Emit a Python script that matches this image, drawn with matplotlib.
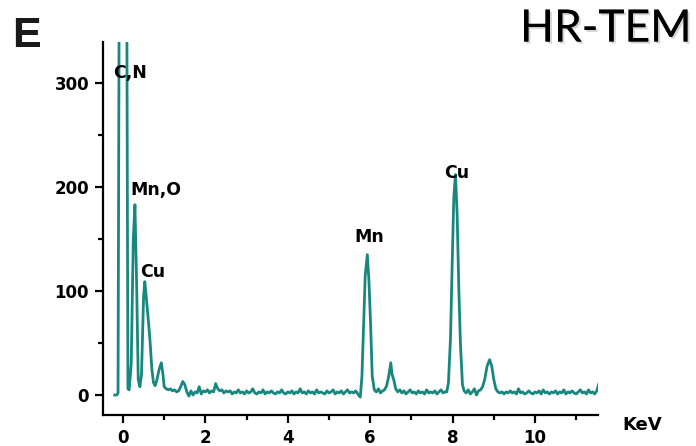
import numpy as np
import matplotlib
matplotlib.use("Agg")
import matplotlib.pyplot as plt
import matplotlib.patheffects as pe
from matplotlib.ticker import MultipleLocator

# EDS spectrum (keV, counts)
energy_low = [-0.20, -0.15, -0.12, -0.09, -0.06, 0.06, 0.09, 0.12, 0.15, 0.20,
              0.25, 0.29, 0.33, 0.37, 0.41, 0.45, 0.50, 0.53, 0.57, 0.62,
              0.66, 0.70, 0.74, 0.78, 0.82, 0.88, 0.93, 0.97, 1.00, 1.05,
              1.10, 1.15, 1.20, 1.25, 1.30, 1.35, 1.40, 1.45, 1.50, 1.55,
              1.60, 1.65, 1.70, 1.75, 1.80, 1.85, 1.90, 1.95, 2.00, 2.05,
              2.10, 2.15, 2.20, 2.25, 2.30, 2.35, 2.40, 2.45, 2.50, 2.55]
counts_low = [0, 0, 2, 420, 700, 700, 420, 6, 5, 30,
              150, 183, 110, 15, 8, 20, 95, 109, 92, 70,
              50, 25, 12, 9, 14, 25, 31, 20, 8, 6,
              5, 6, 4, 5, 3, 4, 8, 13, 10, 3,
              -1, 4, 0, 3, 2, 8, 1, 4, 3, 5,
              2, 4, 3, 11, 6, 4, 5, 2, 4, 3]

energy_base1 = [2.60, 2.65, 2.70, 2.75, 2.80, 2.85, 2.90, 2.95, 3.00, 3.05,
                3.10, 3.15, 3.20, 3.25, 3.30, 3.35, 3.40, 3.45, 3.50, 3.55,
                3.60, 3.65, 3.70, 3.75, 3.80, 3.85, 3.90, 3.95, 4.00, 4.05,
                4.10, 4.15, 4.20, 4.25, 4.30, 4.35, 4.40, 4.45, 4.50, 4.55,
                4.60, 4.65, 4.70, 4.75, 4.80, 4.85, 4.90, 4.95, 5.00, 5.05,
                5.10, 5.15, 5.20, 5.25, 5.30, 5.35, 5.40, 5.45, 5.50, 5.55,
                5.60, 5.65, 5.70]
counts_base1 = [4, 1, 3, 2, 5, 2, 3, 1, 4, 2,
                3, 6, 2, 1, 3, 2, 5, 1, 3, 2,
                4, 2, 1, 3, 2, 5, 2, 1, 3, 2,
                4, 1, 3, 2, 6, 2, 3, 1, 4, 2,
                3, 1, 5, 2, 3, 2, 1, 4, 2, 3,
                5, 1, 3, 2, 4, 1, 3, 5, 2, 3,
                2, 4, 1]

energy_mn = [5.76, 5.80, 5.84, 5.88, 5.93, 5.97, 6.01, 6.05, 6.10, 6.15,
             6.20, 6.25, 6.30, 6.35, 6.40, 6.45, 6.50, 6.53, 6.57, 6.62,
             6.67, 6.72, 6.77, 6.82, 6.87, 6.92, 6.97, 7.02, 7.07, 7.12,
             7.17, 7.22, 7.27, 7.32, 7.37, 7.42, 7.47, 7.52, 7.57, 7.62,
             7.67, 7.72, 7.77, 7.82]
counts_mn = [-2, 18, 68, 115, 135, 110, 68, 18, 5, 3,
             6, 2, 4, 5, 9, 18, 31, 20, 15, 6,
             3, 5, 2, 4, 1, 3, 5, 2, 3, 1,
             4, 2, 3, 1, 5, 2, 3, 2, 4, 1,
             3, 5, 2, 3]

energy_cu = [7.86, 7.90, 7.95, 7.99, 8.03, 8.07, 8.11, 8.15, 8.19, 8.24,
             8.28, 8.33, 8.38, 8.43, 8.48, 8.53, 8.58, 8.63, 8.68, 8.73,
             8.78, 8.84, 8.90, 8.95, 9.00, 9.05, 9.10]
counts_cu = [3, 12, 55, 125, 190, 212, 175, 105, 50, 10,
             4, 2, 5, 1, 3, 6, 0, 4, 5, 8,
             15, 28, 34, 28, 15, 6, 3]

energy_high = [9.15, 9.20, 9.25, 9.30, 9.35, 9.40, 9.45, 9.50, 9.55, 9.60,
               9.65, 9.70, 9.75, 9.80, 9.85, 9.90, 9.95, 10.00, 10.05, 10.10,
               10.15, 10.20, 10.25, 10.30, 10.35, 10.40, 10.45, 10.50, 10.55, 10.60,
               10.65, 10.70, 10.75, 10.80, 10.85, 10.90, 10.95, 11.00, 11.05, 11.10,
               11.15, 11.20, 11.25, 11.30, 11.35, 11.40, 11.45, 11.50, 11.55, 11.58]
counts_high = [2, 3, 1, 3, 2, 4, 2, 3, 1, 6,
               2, 3, 1, 2, 4, 2, 1, 3, 2, 4,
               1, 5, 2, 3, 1, 3, 2, 4, 1, 3,
               2, 5, 1, 3, 2, 4, 2, 1, 3, 5,
               2, 3, 1, 5, 2, 3, 1, 4, 11, 3]

peak_labels = ["C,N", "Mn,O", "Cu", "Mn", "Cu"]
label_x = [0.17, 0.80, 0.73, 5.97, 8.09]
label_y = [310, 197, 118, 152, 213]

energy = energy_low + energy_base1 + energy_mn + energy_cu + energy_high
counts = counts_low + counts_base1 + counts_mn + counts_cu + counts_high

teal = "#18887f"
font = "DejaVu Sans"

fig = plt.figure(figsize=(6.96, 4.46), dpi=100)
ax = fig.add_axes([103 / 696, 1 - 415 / 446, 495 / 696, 373 / 446])

ax.plot(energy, counts, color=teal, lw=2.0)

for lab, lx, ly in zip(peak_labels, label_x, label_y):
    ax.text(lx, ly, lab, ha="center", va="center", fontsize=12.5,
            fontweight="bold", family=font)

ax.set_xlim(-0.485, 11.53)
ax.set_ylim(-19.2, 339.4)
ax.xaxis.set_major_locator(MultipleLocator(2))
ax.xaxis.set_minor_locator(MultipleLocator(1))
ax.yaxis.set_major_locator(MultipleLocator(100))
ax.yaxis.set_minor_locator(MultipleLocator(50))

for s in ["top", "right"]:
    ax.spines[s].set_visible(False)
for s in ["left", "bottom"]:
    ax.spines[s].set_linewidth(1.6)
ax.tick_params(which="major", direction="out", length=6, width=1.6,
               labelsize=12, pad=4)
ax.tick_params(which="minor", direction="out", length=3.5, width=1.6)
for t in ax.get_xticklabels() + ax.get_yticklabels():
    t.set_fontweight("bold")
    t.set_family(font)

fig.text(642 / 696, 1 - 425 / 446, "KeV", ha="center", va="center",
         fontsize=13, fontweight="bold", family=font)
fig.text(12 / 696, 1 - 36 / 446, "E", ha="left", va="center",
         fontsize=31, fontweight="bold", family="Liberation Sans",
         color="#1a1a1a")
fig.text(692 / 696, 1 - 29 / 446, "HR-TEM", ha="right", va="center",
         fontsize=32, family="Lato",
         path_effects=[pe.withSimplePatchShadow(offset=(1.5, -1.5),
                                                shadow_rgbFace="#999999", alpha=0.4),
                       pe.Normal()])

fig.savefig("out.png", dpi=100)
